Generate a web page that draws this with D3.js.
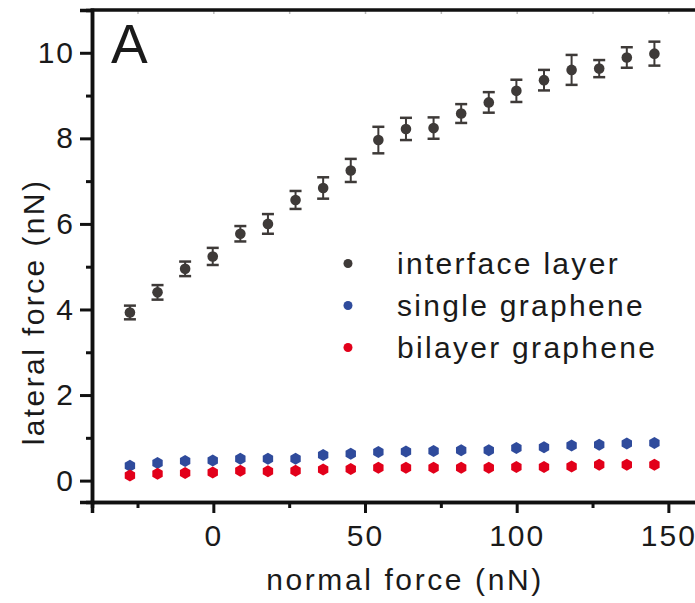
<!DOCTYPE html>
<html>
<head>
<meta charset="utf-8">
<script src="https://cdn.jsdelivr.net/npm/d3@7"></script>
<style>
  body { margin: 0; background: #fff; }
  text { font-family: "Liberation Sans", Arial, sans-serif; fill: #1a1a1a; }
</style>
</head>
<body>
<svg id="chart" width="695" height="603"></svg>
<script>
// normal force (nN), shared by all three series
const normalForce = [-27.5, -18.4, -9.3, -0.2, 8.9, 18.0, 27.1, 36.2, 45.3, 54.4,
  63.5, 72.6, 81.7, 90.8, 99.9, 109.0, 118.1, 127.2, 136.3, 145.4];

// lateral force (nN)
const interfaceLayer = [3.93, 4.40, 4.95, 5.24, 5.77, 6.00, 6.56, 6.84, 7.25, 7.96,
  8.22, 8.24, 8.58, 8.84, 9.11, 9.36, 9.60, 9.63, 9.89, 9.98];
const interfaceErr = [0.16, 0.17, 0.17, 0.20, 0.18, 0.23, 0.21, 0.25, 0.27, 0.31,
  0.26, 0.25, 0.22, 0.24, 0.26, 0.24, 0.35, 0.20, 0.24, 0.28];
const singleGraphene = [0.35, 0.41, 0.46, 0.47, 0.51, 0.51, 0.51, 0.60, 0.63, 0.67,
  0.68, 0.69, 0.71, 0.71, 0.76, 0.78, 0.82, 0.84, 0.87, 0.88];
const bilayerGraphene = [0.12, 0.16, 0.18, 0.19, 0.23, 0.22, 0.23, 0.26, 0.27, 0.30,
  0.30, 0.30, 0.30, 0.30, 0.32, 0.32, 0.33, 0.37, 0.37, 0.37];

const xTicks = [0, 50, 100, 150];
const yTicks = [0, 2, 4, 6, 8, 10];
const legendLabels = ["interface layer", "single graphene", "bilayer graphene"];

const grey = "#3e3a38", blue = "#2f4b9c", red = "#e2001a";

const svg = d3.select("#chart");

const x = d3.scaleLinear().domain([-40, 160]).range([92, 698.7]);
const y = d3.scaleLinear().domain([-0.5, 11]).range([502, 10]);

// hexagon marker (pointy top)
const hexagon = {
  draw(ctx, size) {
    const r = Math.sqrt(size / 2.598);
    for (let i = 0; i < 6; i++) {
      const a = Math.PI / 2 + i * Math.PI / 3;
      const px = r * Math.cos(a), py = r * Math.sin(a);
      if (i === 0) ctx.moveTo(px, py); else ctx.lineTo(px, py);
    }
    ctx.closePath();
  }
};
const hexPath = d3.symbol().type(hexagon).size(2.598 * 6 * 6)();

// axes
const axisFont = g => g.selectAll("text")
  .style("font-size", "30px")
  .style("letter-spacing", "2px")
  .attr("fill", "#1a1a1a");

const xAxis = svg.append("g")
  .attr("transform", `translate(0,${y(-0.5)})`)
  .call(d3.axisBottom(x).tickValues(xTicks).tickSize(11).tickPadding(12).tickFormat(d3.format("d")));
xAxis.call(axisFont);

svg.append("g")
  .attr("transform", `translate(0,${y(-0.5)})`)
  .call(d3.axisBottom(x).tickValues([-25, 25, 75, 125]).tickSize(6).tickFormat(""));

const yAxis = svg.append("g")
  .attr("transform", `translate(${x(-40)},0)`)
  .call(d3.axisLeft(y).tickValues(yTicks).tickSize(12).tickPadding(5).tickFormat(d3.format("d")));
yAxis.call(axisFont);

svg.append("g")
  .attr("transform", `translate(${x(-40)},0)`)
  .call(d3.axisLeft(y).tickValues([1, 3, 5, 7, 9]).tickSize(6).tickFormat(""));

// faint inner ticks of the top frame
svg.append("g")
  .attr("transform", `translate(0,${y(11)})`)
  .call(d3.axisBottom(x).tickValues([-25, 0, 25, 50, 75, 100, 125, 150]).tickSize(4).tickFormat(""))
  .call(g => g.selectAll("line").attr("stroke", "#bbb").attr("stroke-width", 1.5))
  .call(g => g.select(".domain").remove());

svg.selectAll(".domain").attr("stroke", "#111").attr("stroke-width", 3.5);
svg.selectAll(".tick line").filter(function () { return d3.select(this).attr("stroke") !== "#bbb"; })
  .attr("stroke", "#111").attr("stroke-width", 3);

// top frame
svg.append("line")
  .attr("x1", x(-40) - 1.5).attr("x2", x(160))
  .attr("y1", y(11)).attr("y2", y(11))
  .attr("stroke", "#111").attr("stroke-width", 3.5);

// interface layer with error bars
const err = svg.append("g").selectAll("g")
  .data(normalForce.map((f, i) => ({ f, v: interfaceLayer[i], e: interfaceErr[i] })))
  .join("g");

err.append("line")
  .attr("x1", d => x(d.f)).attr("x2", d => x(d.f))
  .attr("y1", d => y(d.v - d.e)).attr("y2", d => y(d.v + d.e))
  .attr("stroke", grey).attr("stroke-width", 2);

err.selectAll(".cap")
  .data(d => [d.v - d.e, d.v + d.e].map(v => ({ f: d.f, v })))
  .join("line")
  .attr("x1", d => x(d.f) - 6).attr("x2", d => x(d.f) + 6)
  .attr("y1", d => y(d.v)).attr("y2", d => y(d.v))
  .attr("stroke", grey).attr("stroke-width", 2.5);

err.append("circle")
  .attr("cx", d => x(d.f)).attr("cy", d => y(d.v))
  .attr("r", 5.3).attr("fill", grey);

// graphene series
[[singleGraphene, blue], [bilayerGraphene, red]].forEach(([vals, col]) => {
  svg.append("g").selectAll("path")
    .data(vals)
    .join("path")
    .attr("d", hexPath)
    .attr("transform", (d, i) => `translate(${x(normalForce[i])},${y(d)})`)
    .attr("fill", col);
});

// legend
const legend = svg.append("g");
legendLabels.forEach((label, i) => {
  const ly = 274 + i * 42;
  legend.append("circle")
    .attr("cx", 348).attr("cy", ly - 10.5).attr("r", 4.5)
    .attr("fill", [grey, blue, red][i]);
  legend.append("text")
    .attr("x", 397).attr("y", ly)
    .style("font-size", "30px").style("letter-spacing", "2.3px")
    .text(label);
});

// panel letter
svg.append("text")
  .attr("x", 111).attr("y", 63)
  .style("font-size", "55px")
  .text("A");

// axis titles
svg.append("text")
  .attr("x", 405).attr("y", 590)
  .attr("text-anchor", "middle")
  .style("font-size", "30px").style("letter-spacing", "2.6px")
  .text("normal force (nN)");

svg.append("text")
  .attr("transform", "rotate(-90)")
  .attr("x", -312).attr("y", 44)
  .attr("text-anchor", "middle")
  .style("font-size", "30px").style("letter-spacing", "2.4px")
  .text("lateral force (nN)");
</script>
</body>
</html>
